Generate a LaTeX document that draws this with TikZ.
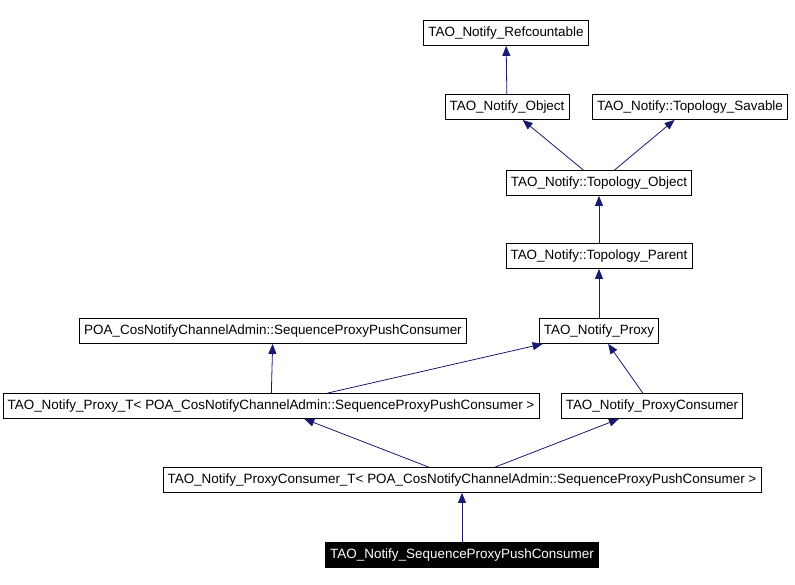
\documentclass[tikz,border=0pt]{standalone}
\usepackage{fontspec}
\setmainfont{Liberation Sans}
\usetikzlibrary{arrows.meta}
\definecolor{edgeblue}{HTML}{191970}
\begin{document}
\begin{tikzpicture}[x=1pt, y=-1pt,
    cls/.style={draw, line width=0.8pt, minimum height=25pt, inner xsep=4.5pt, inner ysep=0pt,
      font=\fontsize{13.45}{15}\selectfont},
    edge/.style={edgeblue, line width=0.8pt, -{Triangle[length=10pt, width=8pt]}}]

    \useasboundingbox (0, 0) rectangle (795, 584);

    \node[cls] (rc) at (506, 33) {TAO\_Notify\_Refcountable};

    \node[cls] (obj) at (507, 107) {TAO\_Notify\_Object};
    \node[cls] (sav) at (690, 107) {TAO\_Notify::Topology\_Savable};

    \path[draw, edge] (obj) to (rc);

    \node[cls] (tobj) at (599, 183) {TAO\_Notify::Topology\_Object};

    \path[draw, edge] (tobj) to (obj);
    \path[draw, edge] (tobj) to (sav);

    \node[cls] (tpar) at (599, 256) {TAO\_Notify::Topology\_Parent};

    \path[draw, edge] (tpar) to (tobj);

    \node[cls] (poa) at (273, 331) {POA\_CosNotifyChannelAdmin::SequenceProxyPushConsumer};
    \node[cls] (prx) at (599, 331) {TAO\_Notify\_Proxy};

    \path[draw, edge] (prx) to (tpar);

    \node[cls] (prxt) at (271, 406) {TAO\_Notify\_Proxy\_T< POA\_CosNotifyChannelAdmin::SequenceProxyPushConsumer >};
    \node[cls] (pcon) at (652, 406) {TAO\_Notify\_ProxyConsumer};

    \path[draw, edge] (prxt) to (poa);
    \path[draw, edge] (prxt) to (prx);
    \path[draw, edge] (pcon) to (prx);

    \node[cls] (pcont) at (462, 480) {TAO\_Notify\_ProxyConsumer\_T< POA\_CosNotifyChannelAdmin::SequenceProxyPushConsumer >};

    \path[draw, edge] (pcont) to (prxt);
    \path[draw, edge] (pcont) to (pcon);

    \node[cls, fill=black, text=white] (seq) at (462, 555) {TAO\_Notify\_SequenceProxyPushConsumer};

    \path[draw, edge] (seq) to (pcont);

  \end{tikzpicture}
\end{document}
